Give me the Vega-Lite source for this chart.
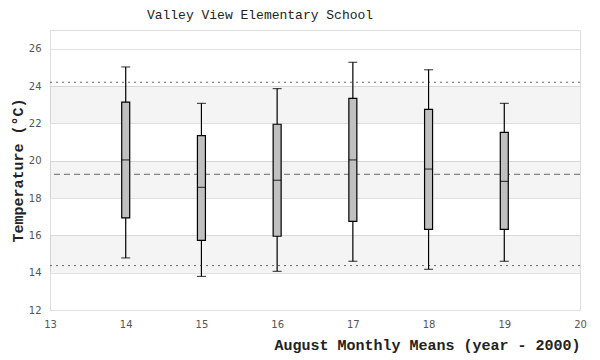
{
  "$schema": "https://vega.github.io/schema/vega-lite/v6.json",
  "width": 530,
  "height": 280,
  "autosize": "none",
  "padding": {"left": 50, "top": 30, "right": 20, "bottom": 50},
  "background": "white",
  "title": {
    "text": "Valley View Elementary School",
    "font": "Liberation Mono",
    "fontSize": 13,
    "fontWeight": "normal",
    "color": "#222",
    "anchor": "middle",
    "frame": "group",
    "dx": -55,
    "offset": 8
  },
  "config": {
    "view": {"stroke": "#ddd", "strokeWidth": 1},
    "axis": {
      "labelFont": "DejaVu Sans",
      "labelFontSize": 10,
      "labelColor": "#555",
      "labelOverlap": false,
      "labelFlush": false,
      "ticks": false,
      "domain": false,
      "titleFont": "Liberation Mono",
      "titleFontSize": 15,
      "titleFontWeight": "bold",
      "titleColor": "#222",
      "gridColor": "#e0e0e0",
      "gridWidth": 1
    },
    "axisY": {
      "values": [12, 14, 16, 18, 20, 22, 24, 26],
      "format": "d",
      "labelPadding": 9,
      "titlePadding": 3,
      "grid": true
    }
  },
  "datasets": {
    "boxes": [
      {"year": 14, "low": 14.79, "q1": 16.93, "median": 20.04, "q3": 23.14, "high": 25.02},
      {"year": 15, "low": 13.8, "q1": 15.73, "median": 18.57, "q3": 21.34, "high": 23.07},
      {"year": 16, "low": 14.07, "q1": 15.95, "median": 18.95, "q3": 21.95, "high": 23.86},
      {"year": 17, "low": 14.61, "q1": 16.75, "median": 20.04, "q3": 23.34, "high": 25.27},
      {"year": 18, "low": 14.18, "q1": 16.32, "median": 19.55, "q3": 22.75, "high": 24.87},
      {"year": 19, "low": 14.61, "q1": 16.32, "median": 18.89, "q3": 21.52, "high": 23.07}
    ],
    "bands": [
      {"from": 14, "to": 16},
      {"from": 18, "to": 20},
      {"from": 22, "to": 24}
    ],
    "meanLine": [{"value": 19.27}],
    "limits": [{"value": 24.2}, {"value": 14.38}]
  },
  "layer": [
    {
      "data": {"name": "bands"},
      "mark": {"type": "rect", "fill": "#000", "opacity": 0.045},
      "encoding": {
        "y": {
          "field": "from",
          "type": "quantitative",
          "scale": {"domain": [12, 27], "nice": false, "zero": false, "padding": 0},
          "title": "Temperature (°C)"
        },
        "y2": {"field": "to"}
      }
    },
    {
      "data": {"name": "meanLine"},
      "mark": {"type": "rule", "stroke": "#666", "strokeWidth": 1, "strokeDash": [6, 4]},
      "encoding": {"y": {"field": "value", "type": "quantitative", "title": "Temperature (°C)"}}
    },
    {
      "data": {"name": "limits"},
      "mark": {"type": "rule", "stroke": "#666", "strokeWidth": 1, "strokeDash": [2, 4]},
      "encoding": {"y": {"field": "value", "type": "quantitative", "title": "Temperature (°C)"}}
    },
    {
      "data": {"name": "boxes"},
      "layer": [
        {
          "mark": {"type": "rule", "stroke": "black", "strokeWidth": 1.2},
          "encoding": {
            "x": {
              "field": "year",
              "type": "quantitative",
              "scale": {"domain": [13, 20], "nice": false, "zero": false, "padding": 0},
              "title": "August Monthly Means (year - 2000)",
              "axis": {
                "values": [13, 14, 15, 16, 17, 18, 19, 20],
                "format": "d",
                "grid": false,
                "labelFlush": false,
                "titleAnchor": "end",
                "titleAlign": "right",
                "labelPadding": 9,
                "titlePadding": 8
              }
            },
            "y": {"field": "low", "type": "quantitative", "title": "Temperature (°C)"},
            "y2": {"field": "high"}
          }
        },
        {
          "mark": {"type": "bar", "size": 8, "fill": "#c0c0c0", "stroke": "black", "strokeWidth": 1.2},
          "encoding": {
            "x": {"field": "year", "type": "quantitative"},
            "y": {"field": "q1", "type": "quantitative", "title": "Temperature (°C)"},
            "y2": {"field": "q3"}
          }
        },
        {
          "mark": {"type": "tick", "orient": "horizontal", "size": 8, "thickness": 1.2, "color": "black"},
          "encoding": {
            "x": {"field": "year", "type": "quantitative"},
            "y": {"field": "median", "type": "quantitative", "title": "Temperature (°C)"}
          }
        },
        {
          "mark": {"type": "tick", "orient": "horizontal", "size": 9, "thickness": 1.2, "color": "black"},
          "encoding": {
            "x": {"field": "year", "type": "quantitative"},
            "y": {"field": "low", "type": "quantitative", "title": "Temperature (°C)"}
          }
        },
        {
          "mark": {"type": "tick", "orient": "horizontal", "size": 9, "thickness": 1.2, "color": "black"},
          "encoding": {
            "x": {"field": "year", "type": "quantitative"},
            "y": {"field": "high", "type": "quantitative", "title": "Temperature (°C)"}
          }
        }
      ]
    }
  ]
}
